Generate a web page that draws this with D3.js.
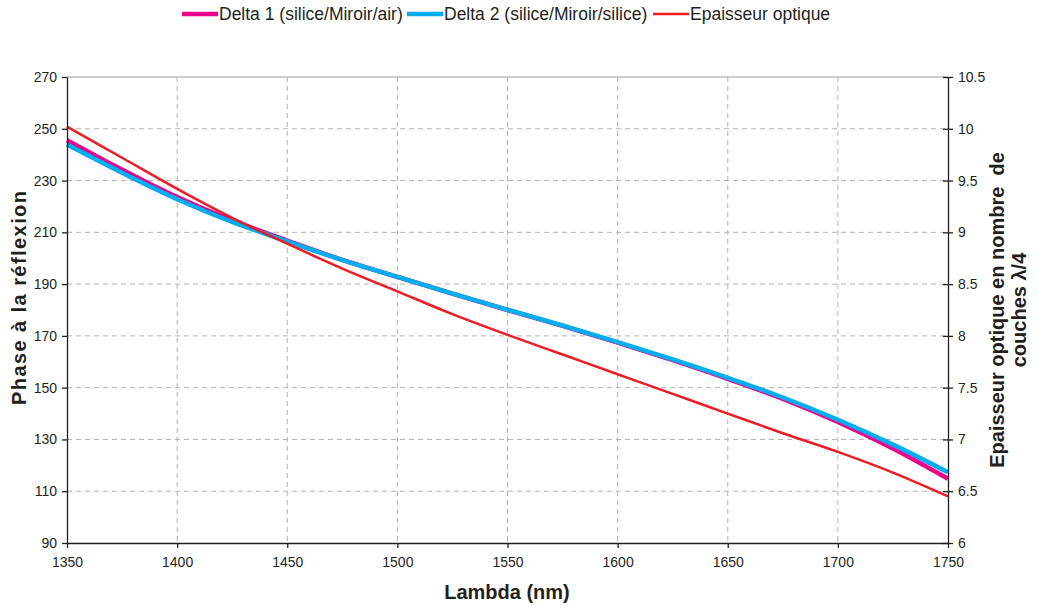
<!DOCTYPE html>
<html lang="fr">
<head>
  <meta charset="utf-8" />
  <title>Phase à la réflexion</title>
  <script src="https://d3js.org/d3.v7.min.js"></script>
  <style>
    body { margin: 0; background: #fff; }
    svg text { font-family: "Liberation Sans", Arial, sans-serif; fill: #231f20; }
    .grid line { stroke: #b3b3b3; stroke-dasharray: 5,4; stroke-width: 1; }
  </style>
</head>
<body>
<svg id="chart" width="1038" height="607"></svg>
<script>
  // wavelengths (nm)
  const lambda = [1350, 1375, 1400, 1425, 1450, 1475, 1500, 1525, 1550, 1575, 1600, 1625, 1650, 1675, 1700, 1725, 1750];
  // phase (deg), left axis
  const delta1 = [245.6, 234.2, 223.6, 214.6, 206.8, 199.4, 192.8, 186.3, 180.0, 173.9, 167.4, 160.6, 153.4, 145.7, 136.8, 126.5, 114.8];
  const delta2 = [243.9, 233.0, 222.8, 214.0, 206.5, 199.3, 192.8, 186.3, 180.1, 174.0, 167.6, 160.9, 153.8, 146.2, 137.6, 128.0, 117.3];
  // optical thickness in lambda/4 layers, right axis
  const epaisseur = [10.02, 9.72, 9.42, 9.14, 8.89, 8.65, 8.43, 8.21, 8.01, 7.82, 7.63, 7.44, 7.25, 7.06, 6.88, 6.68, 6.45];

  const xTicks = [1350, 1400, 1450, 1500, 1550, 1600, 1650, 1700, 1750];
  const yLeftTicks = [90, 110, 130, 150, 170, 190, 210, 230, 250, 270];
  const yRightTicks = [6, 6.5, 7, 7.5, 8, 8.5, 9, 9.5, 10, 10.5];

  const m = { left: 67, right: 948, top: 77, bottom: 543 };
  const svg = d3.select("#chart");

  const x = d3.scaleLinear().domain([1350, 1750]).range([m.left, m.right]);
  const yL = d3.scaleLinear().domain([90, 270]).range([m.bottom, m.top]);
  const yR = d3.scaleLinear().domain([6, 10.5]).range([m.bottom, m.top]);

  // grid
  const grid = svg.append("g").attr("class", "grid");
  grid.selectAll(".h").data(yLeftTicks.slice(1, -1)).enter().append("line")
    .attr("x1", m.left).attr("x2", m.right)
    .attr("y1", d => yL(d)).attr("y2", d => yL(d));
  grid.selectAll(".v").data(xTicks.slice(1, -1)).enter().append("line")
    .attr("y1", m.top).attr("y2", m.bottom)
    .attr("x1", d => x(d)).attr("x2", d => x(d));
  svg.append("line")
    .attr("x1", m.left).attr("x2", m.right).attr("y1", m.top).attr("y2", m.top)
    .attr("stroke", "#bdbdbd").attr("stroke-width", 1.5);

  // series
  const pts = arr => arr.map((v, i) => [lambda[i], v]);
  const lineL = d3.line().x(d => x(d[0])).y(d => yL(d[1])).curve(d3.curveCatmullRom);
  const lineR = d3.line().x(d => x(d[0])).y(d => yR(d[1])).curve(d3.curveCatmullRom);

  svg.append("path").attr("d", lineL(pts(delta1)))
    .attr("fill", "none").attr("stroke", "#ec008c").attr("stroke-width", 4.5);
  svg.append("path").attr("d", lineL(pts(delta2)))
    .attr("fill", "none").attr("stroke", "#00aeef").attr("stroke-width", 4.5);
  svg.append("path").attr("d", lineR(pts(epaisseur)))
    .attr("fill", "none").attr("stroke", "#ed1c24").attr("stroke-width", 2.5);

  // axes
  const axStyle = g => {
    g.selectAll("path, line").attr("stroke", "#231f20").attr("stroke-width", 1.3);
    g.selectAll("text").attr("font-size", 14).attr("fill", "#231f20")
      .attr("font-family", "'Liberation Sans', Arial, sans-serif");
  };
  svg.append("g").attr("transform", `translate(0,${m.bottom})`)
    .call(d3.axisBottom(x).tickValues(xTicks).tickFormat(d3.format("d")).tickSize(5).tickSizeOuter(0).tickPadding(9))
    .call(axStyle);
  svg.append("g").attr("transform", `translate(${m.left},0)`)
    .call(d3.axisLeft(yL).tickValues(yLeftTicks).tickSize(5).tickSizeOuter(0).tickPadding(5))
    .call(axStyle);
  const ar = svg.append("g").attr("transform", `translate(${m.right},0)`)
    .call(d3.axisRight(yR).tickValues(yRightTicks).tickFormat(d => String(d)).tickSize(5).tickSizeOuter(0).tickPadding(5))
    .call(axStyle);
  ar.selectAll(".tick line").attr("x1", -5);

  // axis titles
  svg.append("text").attr("x", 507).attr("y", 599)
    .attr("text-anchor", "middle").attr("font-size", 20).attr("font-weight", "bold")
    .text("Lambda (nm)");
  svg.append("text").attr("transform", `translate(26,298) rotate(-90)`)
    .attr("text-anchor", "middle").attr("font-size", 20).attr("font-weight", "bold")
    .attr("textLength", 214).attr("lengthAdjust", "spacing")
    .text("Phase à la réflexion");
  const rt = svg.append("text").attr("transform", `translate(1004,310) rotate(-90)`)
    .attr("text-anchor", "middle").attr("font-size", 20).attr("font-weight", "bold");
  rt.append("tspan").attr("x", 0).attr("dy", 0).attr("xml:space", "preserve").text("Epaisseur optique en nombre  de");
  rt.append("tspan").attr("x", 0).attr("dy", 22).text("couches λ/4");

  // legend
  const legend = [
    { name: "Delta 1 (silice/Miroir/air)", color: "#ec008c", w: 4.5, x: 182 },
    { name: "Delta 2 (silice/Miroir/silice)", color: "#00aeef", w: 4.5, x: 407 },
    { name: "Epaisseur optique", color: "#ed1c24", w: 2.5, x: 653 }
  ];
  const lg = svg.append("g").selectAll("g").data(legend).enter().append("g")
    .attr("transform", d => `translate(${d.x},14)`);
  lg.append("line").attr("x1", 0).attr("x2", 36).attr("y1", 0).attr("y2", 0)
    .attr("stroke", d => d.color).attr("stroke-width", d => d.w);
  lg.append("text").attr("x", 37).attr("y", 6).attr("font-size", 17.5).text(d => d.name);
</script>
</body>
</html>
